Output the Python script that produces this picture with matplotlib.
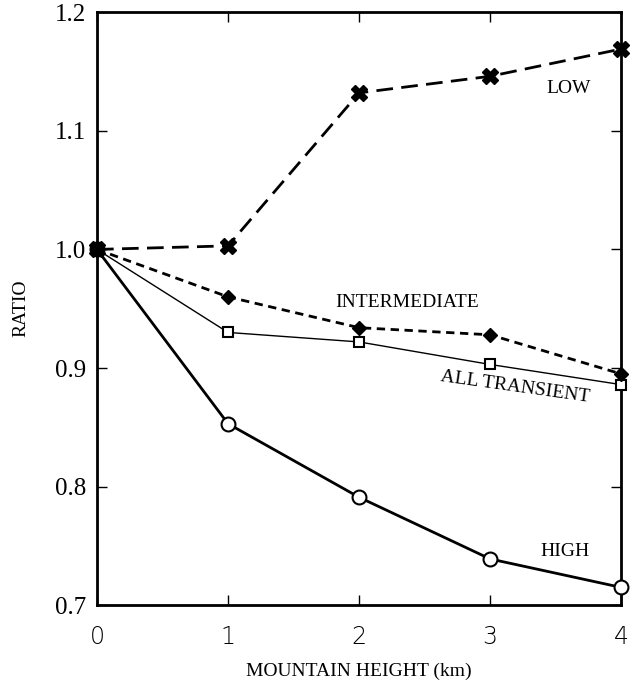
import matplotlib
matplotlib.use("Agg")
import matplotlib.pyplot as plt

# mountain height (km)
height = [0, 1, 2, 3, 4]

# ratio for each band
low = [1.0, 1.003, 1.132, 1.146, 1.169]
intermediate = [1.0, 0.960, 0.934, 0.928, 0.895]
all_transient = [1.0, 0.930, 0.922, 0.903, 0.886]
high = [1.0, 0.853, 0.791, 0.739, 0.715]

plt.rcParams['font.family'] = ['Liberation Serif', 'DejaVu Serif']

fig = plt.figure(figsize=(6.3, 6.8), dpi=100)
ax = fig.add_axes([0.154, 0.110, 0.832, 0.872])

ax.plot(height, low, color='black', lw=2, dashes=(6, 3), marker='X',
        markersize=11, clip_on=False, zorder=4)
ax.plot(height, intermediate, color='black', lw=2, dashes=(3, 2), marker='D',
        markersize=7, clip_on=False, zorder=4)
ax.plot(height, all_transient, color='black', lw=1, marker='s', markersize=7,
        markerfacecolor='white', markeredgewidth=1.5, clip_on=False, zorder=3)
ax.plot(height, high, color='black', lw=2, marker='o', markersize=10,
        markerfacecolor='white', markeredgewidth=1.5, clip_on=False, zorder=3)

ax.text(3.6, 1.136, 'LOW', fontsize=14, ha='center', va='center')
ax.text(2.37, 0.955, 'INTERMEDIATE', fontsize=14, ha='center', va='center')
ax.text(3.19, 0.884, 'ALL TRANSIENT', fontsize=14, ha='center', va='center',
        rotation=-8)
ax.text(3.57, 0.745, 'HIGH', fontsize=14, ha='center', va='center')

ax.set_xlim(0, 4)
ax.set_ylim(0.7, 1.2)
ax.set_xticks(height)
ax.set_yticks([0.7, 0.8, 0.9, 1.0, 1.1, 1.2])
ax.set_yticklabels(['0.7', '0.8', '0.9', '1.0', '1.1', '1.2'], fontsize=18)
ax.set_xticklabels([str(h) for h in height], fontsize=17,
                   family=['DejaVu Sans'], fontweight='light')
ax.tick_params(direction='in', length=7, width=1, top=True, right=True,
               pad=8)
ax.tick_params(axis='x', pad=14)
for s in ax.spines.values():
    s.set_linewidth(2)

ax.set_xlabel('MOUNTAIN HEIGHT (km)', fontsize=14, labelpad=10)
ax.set_ylabel('RATIO', fontsize=14, labelpad=18)

fig.savefig('out.png', dpi=100)
